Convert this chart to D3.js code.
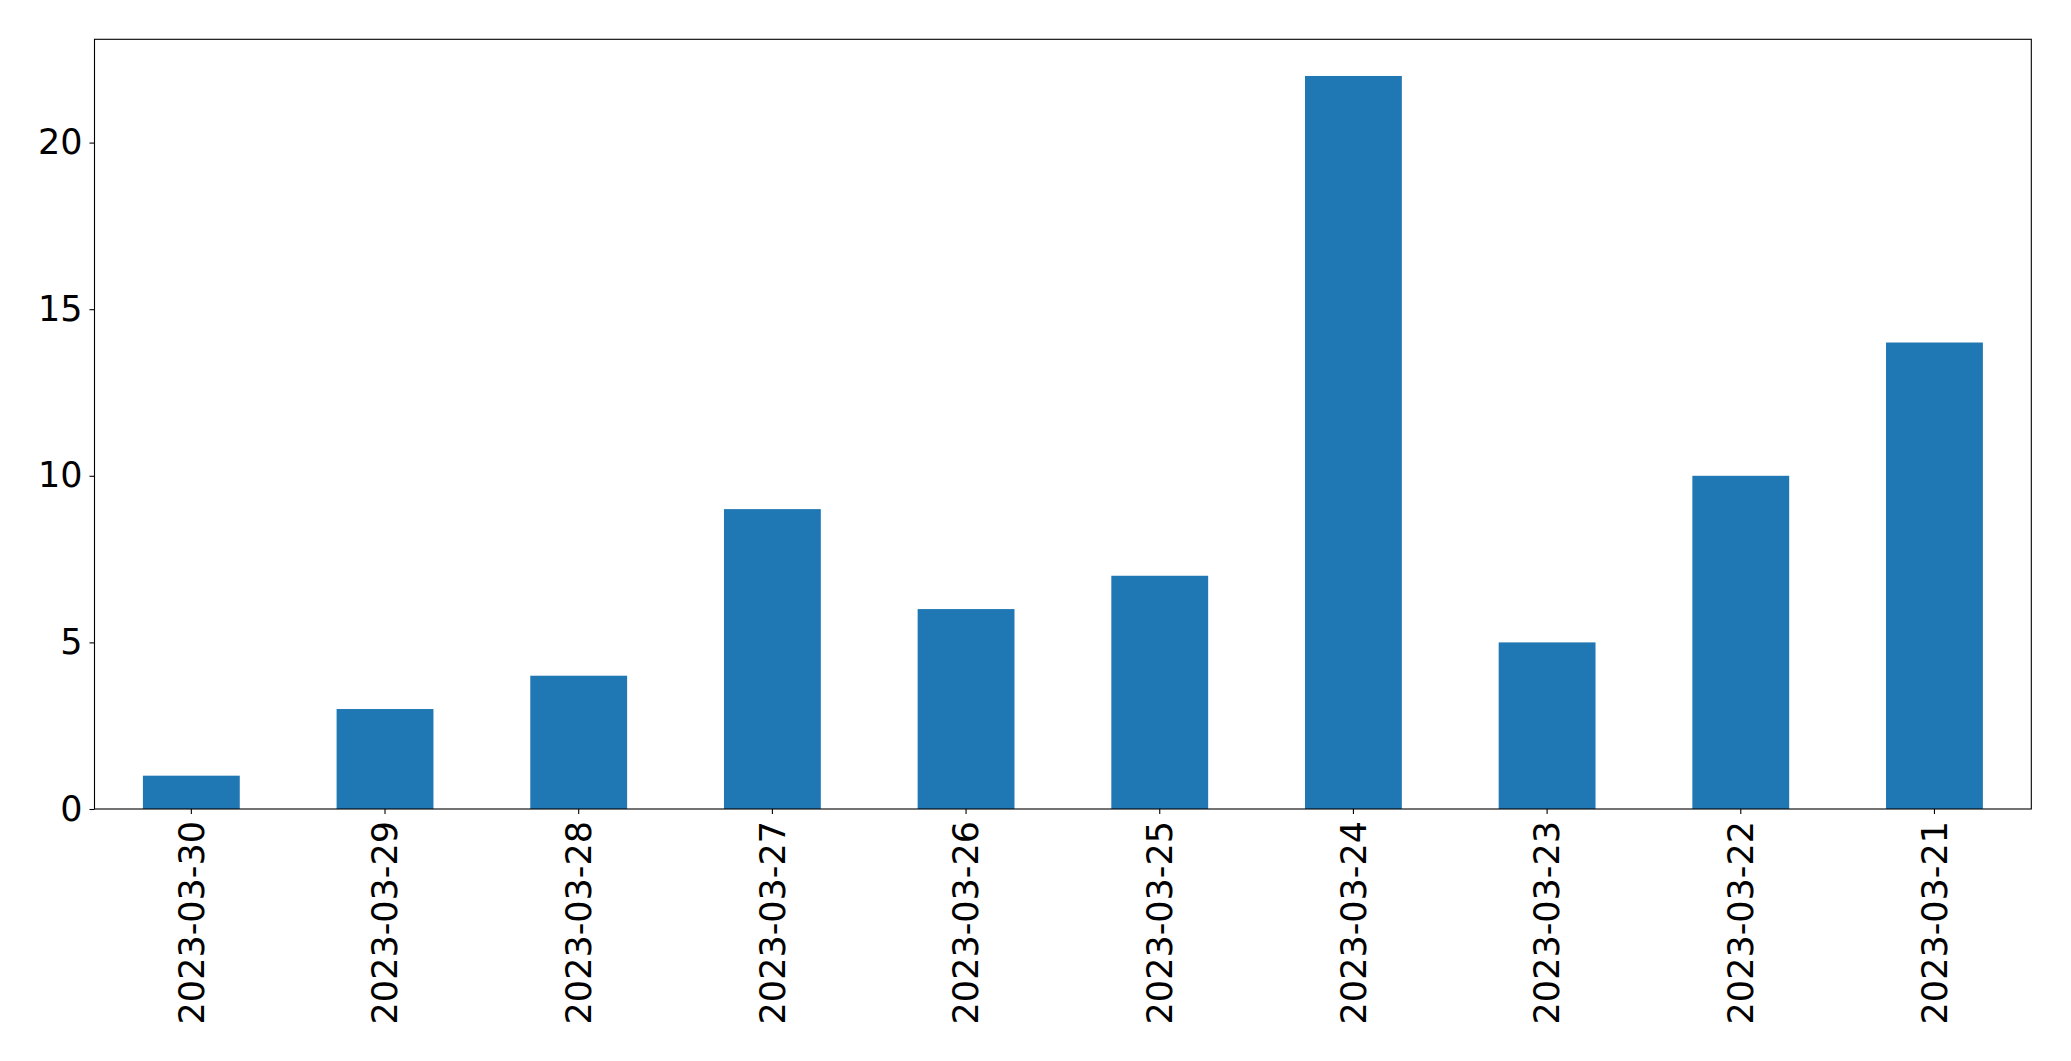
<!DOCTYPE html>
<html><head><meta charset="utf-8">
<script src="https://cdn.jsdelivr.net/npm/d3@7"></script>
<style>body{margin:0;background:#fff}svg{display:block}</style>
</head><body>
<script>
const categories = ["2023-03-30","2023-03-29","2023-03-28","2023-03-27","2023-03-26","2023-03-25","2023-03-24","2023-03-23","2023-03-22","2023-03-21"];
const values = [1,3,4,9,6,7,22,5,10,14];
const yTicks = [0,5,10,15,20];

const W = 2071, H = 1061;
const m = {left:94.5, right:2031.3, top:39.3, bottom:809};
const svg = d3.select("body").append("svg").attr("width",W).attr("height",H);

const x = d3.scaleBand().domain(categories).range([m.left,m.right]).paddingInner(0.5).paddingOuter(0.25);
const y = d3.scaleLinear().domain([0, d3.max(values)*1.05]).range([m.bottom,m.top]);

svg.append("g").selectAll("rect").data(values).join("rect")
  .attr("x",(d,i)=>x(categories[i]))
  .attr("width",x.bandwidth())
  .attr("y",d=>y(d))
  .attr("height",d=>y(0)-y(d))
  .attr("fill","#1f77b4");

const font = "DejaVu Sans";
const gx = svg.append("g").attr("transform",`translate(0,${m.bottom})`)
  .call(d3.axisBottom(x).tickSize(5).tickPadding(7));
gx.select(".domain").remove();
gx.selectAll("line").attr("stroke","#000").attr("stroke-width",1.1);
gx.selectAll("text").attr("font-family",font).attr("font-size",35).attr("fill","#000")
  .attr("transform","rotate(-90)").attr("text-anchor","end").attr("dy","0.35em")
  .attr("x",-12).attr("y",0);

const gy = svg.append("g").attr("transform",`translate(${m.left},0)`)
  .call(d3.axisLeft(y).tickValues(yTicks).tickSize(5).tickPadding(7));
gy.select(".domain").remove();
gy.selectAll("line").attr("stroke","#000").attr("stroke-width",1.1);
gy.selectAll("text").attr("font-family",font).attr("font-size",35).attr("fill","#000");

svg.append("rect").attr("x",m.left).attr("y",m.top).attr("width",m.right-m.left).attr("height",m.bottom-m.top)
  .attr("fill","none").attr("stroke","#000").attr("stroke-width",1.1);
</script>
</body></html>
